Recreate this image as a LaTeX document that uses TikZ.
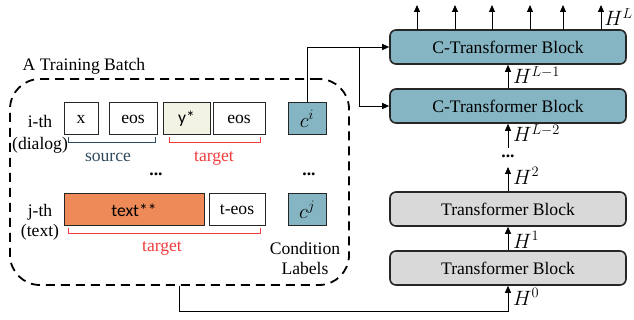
\documentclass[tikz,border=0pt]{standalone}
\usepackage{fontspec}
\setmainfont{Liberation Serif}
\newfontfamily\calib{Carlito}
\usetikzlibrary{arrows.meta}
\definecolor{teal}{HTML}{85B4C2}
\definecolor{blockgray}{HTML}{D9D9D9}
\definecolor{orng}{HTML}{EE8A58}
\definecolor{beige}{HTML}{F3F3E4}
\definecolor{srcblue}{HTML}{2E4A5E}
\definecolor{tgtred}{HTML}{F03C3C}
\newcommand{\fs}{\fontsize{17.6}{20}\selectfont}
\newcommand{\fm}{\fontsize{21}{24}\selectfont}
\begin{document}
\begin{tikzpicture}[x=1pt,y=-1pt,
  tok/.style={draw=black!85, line width=1pt, minimum height=32pt, inner sep=0pt, font=\fs},
  blk/.style={draw=black!85, line width=1.6pt, rounded corners=6pt, minimum width=236pt, minimum height=34pt, inner sep=0pt, font=\fs},
  lbl/.style={font=\fs, inner sep=0pt},
  mlbl/.style={font=\fm, inner sep=0pt},
  arr/.style={line width=0.9pt, -{Triangle[length=7pt,width=6pt]}},
  brk/.style={line width=1pt},
]
\useasboundingbox (0,0) rectangle (634,320);

% training batch
\node[draw, line width=1.8pt, dash pattern=on 9pt off 6pt, rounded corners=30pt,
      minimum width=339pt, minimum height=206pt] (batch) at (179.5,182) {};
\node[lbl] (title) at (84,66) {A Training Batch};

% row i
\node[lbl] (ith) at (40,121) {i-th};
\node[lbl] (dialog) at (40,145) {(dialog)};
\node[tok, minimum width=34pt] (x) at (81,119) {x};
\node[tok, minimum width=48pt] (eos1) at (133,119) {eos};
\node[tok, minimum width=47pt, fill=beige, font=\fs\calib] (ys) at (186.5,119) {y*};
\node[tok, minimum width=52pt] (eos2) at (239,119) {eos};
\node[tok, minimum width=38pt, minimum height=32pt, fill=teal, font=\fm] (ci) at (307,119) {$c^i$};

\draw[brk, srcblue] (68,137) coordinate (s1) -- (68,143) -- (155,143) -- (155,137);
\node[lbl, text=srcblue] (src) at (108,157) {source};
\draw[brk, tgtred] (169,137) -- (169,143) -- (260,143) -- (260,137);
\node[lbl, text=tgtred] (tgt1) at (214,158) {target};

\node[lbl] (dots1) at (156,174) {\textbf{...}};
\node[lbl] (dots2) at (309,174) {\textbf{...}};

% row j
\node[lbl] (jth) at (40,212) {j-th};
\node[lbl] (txt) at (40,232) {(text)};
\node[tok, minimum width=140pt, fill=orng, font=\fs\calib] (textb) at (134,210) {text**};
\node[tok, minimum width=56pt] (teos) at (237,210) {t-eos};
\node[tok, minimum width=38pt, fill=teal, font=\fm] (cj) at (307,210) {$c^j$};
\draw[brk, tgtred] (68,228) -- (68,234) -- (260,234) -- (260,228);
\node[lbl, text=tgtred] (tgt2) at (162,248) {target};
\node[lbl, align=center, font={\fontsize{17.6}{20}\selectfont}] (cond) at (305,258) {Condition\\Labels};

% transformer stack
\node[blk, fill=teal] (ct1) at (508,47) {C-Transformer Block};
\node[blk, fill=teal] (ct2) at (508,106) {C-Transformer Block};
\node[blk, fill=blockgray] (tb2) at (508,209) {Transformer Block};
\node[blk, fill=blockgray] (tb1) at (508,268) {Transformer Block};

% condition connectors
\coordinate (br) at (359,47);
\draw[arr] (ci.north) |- (ct1.west);
\draw[arr] (br) |- (ct2.west);

% input connector
\draw[arr] (batch.south) -- ++(0,26) -| (tb1.south);

% hidden-state arrows
\draw[arr] (tb1.north) -- (tb2.south);
\coordinate (h2) at (508,167);
\draw[arr] (tb2.north) -- (h2);
\node[lbl] (vdots) at (508,156) {\textbf{...}};
\coordinate (hl2) at (508,148);
\draw[arr] (hl2) -- (ct2.south);
\draw[arr] (ct2.north) -- (ct1.south);
\foreach \xx [count=\i] in {417,455,492,530,563,601} {
  \coordinate (o\i) at (\xx,5);
  \draw[arr] (\xx,30) -- (o\i);
}

\node[mlbl, anchor=west] (H0) at (513,297) {$H^{0}$};
\node[mlbl, anchor=west] (H1) at (513,240) {$H^{1}$};
\node[mlbl, anchor=west] (H2) at (513,176) {$H^{2}$};
\node[mlbl, anchor=west] (HL2) at (513,133) {$H^{L-2}$};
\node[mlbl, anchor=west] (HL1) at (513,75) {$H^{L-1}$};
\node[mlbl, anchor=east] (HL) at (633,17) {$H^{L}$};
\end{tikzpicture}
\end{document}
